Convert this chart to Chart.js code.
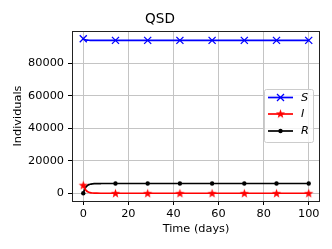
<!DOCTYPE html>
<html>
<head>
<meta charset="utf-8">
<script src="https://cdn.jsdelivr.net/npm/chart.js@4.4.1/dist/chart.umd.min.js"></script>
<style>
  html, body { margin: 0; padding: 0; background: #fff; }
  #wrap { width: 332px; height: 249px; }
</style>
</head>
<body>
<div id="wrap"><canvas id="c" width="332" height="249"></canvas></div>
<script>
// time (days) of the solution points
const days = [0, 0.5, 1, 1.5, 2, 2.5, 3, 4, 5, 6, 8, 10, 14.29, 28.57, 42.86, 57.14, 71.43, 85.71, 100];
// days where markers are drawn
const markDays = [0, 14.29, 28.57, 42.86, 57.14, 71.43, 85.71, 100];

const S = [95000, 94600, 94350, 94200, 94120, 94070, 94040, 94010, 94000, 94000, 94000, 94000, 94000, 94000, 94000, 94000, 94000, 94000, 94000];
const I = [5000, 3300, 2150, 1400, 900, 600, 380, 160, 70, 30, 5, 0, 0, 0, 0, 0, 0, 0, 0];
const R = [0, 2100, 3500, 4400, 4980, 5330, 5580, 5830, 5930, 5970, 5995, 6000, 6000, 6000, 6000, 6000, 6000, 6000, 6000];

const seriesNames = ['S', 'I', 'R'];
const xTicks = [0, 20, 40, 60, 80, 100];
const yTicks = [0, 20000, 40000, 60000, 80000];

const FONT = 'DejaVu Sans';
const FS = 11.3;

// filled five point star like matplotlib '*'
function makeStar(color) {
  const c = document.createElement('canvas');
  c.width = 11; c.height = 11;
  const g = c.getContext('2d');
  g.fillStyle = color;
  g.beginPath();
  for (let i = 0; i < 10; i++) {
    const r = i % 2 === 0 ? 4.8 : 2.0;
    const a = -Math.PI / 2 + i * Math.PI / 5;
    const px = 5.5 + r * Math.cos(a), py = 5.8 + r * Math.sin(a);
    if (i === 0) g.moveTo(px, py); else g.lineTo(px, py);
  }
  g.closePath();
  g.fill();
  return c;
}
const star = makeStar('#ff0000');

const isMark = ctx => markDays.includes(days[ctx.dataIndex]);
const pts = arr => days.map((d, i) => ({ x: d, y: arr[i] }));

const frame = {
  id: 'frame',
  afterDatasetsDraw(chart) {
    const a = chart.chartArea, ctx = chart.ctx;
    ctx.save();
    ctx.strokeStyle = '#222';
    ctx.lineWidth = 1;
    ctx.strokeRect(Math.round(a.left) + 0.5, Math.round(a.top) + 0.5, Math.round(a.right - a.left) - 1, Math.round(a.bottom - a.top));
    ctx.restore();
  }
};

const legendBox = {
  id: 'legendBox',
  afterDraw(chart) {
    const ctx = chart.ctx;
    ctx.save();
    ctx.beginPath();
    ctx.roundRect(264.5, 89.5, 49, 53, 2);
    ctx.fillStyle = 'rgba(255,255,255,0.8)';
    ctx.fill();
    ctx.strokeStyle = '#cccccc';
    ctx.lineWidth = 1;
    ctx.stroke();
    const rows = [97.5, 114, 131];
    const colors = ['#0000ff', '#ff0000', '#000000'];
    rows.forEach((y, k) => {
      ctx.strokeStyle = colors[k];
      ctx.lineWidth = 1.7;
      ctx.beginPath();
      ctx.moveTo(268, y); ctx.lineTo(293, y);
      ctx.stroke();
      const mx = 280.5;
      if (k === 0) {
        ctx.lineWidth = 1.3;
        ctx.beginPath();
        ctx.moveTo(mx - 3.5, y - 3.5); ctx.lineTo(mx + 3.5, y + 3.5);
        ctx.moveTo(mx - 3.5, y + 3.5); ctx.lineTo(mx + 3.5, y - 3.5);
        ctx.stroke();
      } else if (k === 1) {
        ctx.drawImage(star, mx - 5.5, y - 5.8);
      } else {
        ctx.fillStyle = '#000';
        ctx.beginPath();
        ctx.arc(mx, y, 2.2, 0, Math.PI * 2);
        ctx.fill();
      }
      ctx.fillStyle = '#000';
      ctx.font = 'italic ' + FS + 'px "' + FONT + '"';
      ctx.textBaseline = 'middle';
      ctx.fillText(seriesNames[k], 301, y + 0.5);
    });
    ctx.restore();
  }
};

new Chart(document.getElementById('c'), {
  type: 'line',
  data: {
    datasets: [
      {
        label: seriesNames[0], data: pts(S),
        borderColor: '#0000ff', backgroundColor: '#0000ff', borderWidth: 1.7,
        pointStyle: 'crossRot', pointRadius: ctx => isMark(ctx) ? 5 : 0,
        pointBorderWidth: 1.3, cubicInterpolationMode: 'monotone'
      },
      {
        label: seriesNames[1], data: pts(I),
        borderColor: '#ff0000', backgroundColor: '#ff0000', borderWidth: 1.7,
        pointStyle: ctx => isMark(ctx) ? star : 'circle', pointRadius: ctx => isMark(ctx) ? 4 : 0,
        cubicInterpolationMode: 'monotone'
      },
      {
        label: seriesNames[2], data: pts(R),
        borderColor: '#000000', backgroundColor: '#000000', borderWidth: 1.7,
        pointStyle: 'circle', pointRadius: ctx => isMark(ctx) ? 2.2 : 0, pointBorderWidth: 0,
        cubicInterpolationMode: 'monotone'
      }
    ]
  },
  options: {
    responsive: false,
    animation: false,
    devicePixelRatio: 1,
    layout: { padding: { left: 0, right: 12, top: 0, bottom: 0 } },
    plugins: {
      legend: { display: false },
      tooltip: { enabled: false },
      title: {
        display: true, text: 'QSD', color: '#000',
        font: { family: FONT, size: 13.6, weight: 'normal' },
        padding: { top: 11.8, bottom: 2.9 }
      }
    },
    scales: {
      x: {
        type: 'linear', min: -5, max: 105,
        afterBuildTicks: s => { s.ticks = xTicks.map(v => ({ value: v })); },
        afterFit: s => { s.height = 48; },
        grid: { color: '#c4c4c4', lineWidth: 1, tickColor: '#000', tickLength: 4 },
        border: { display: false },
        ticks: { color: '#000', font: { family: FONT, size: FS }, padding: 2, maxRotation: 0 },
        title: { display: true, text: 'Time (days)', color: '#000', font: { family: FONT, size: FS }, padding: { top: 0, bottom: 13.2 } }
      },
      y: {
        min: -4750, max: 99750,
        afterBuildTicks: s => { s.ticks = yTicks.map(v => ({ value: v })); },
        afterFit: s => { s.width = 72; },
        grid: { color: '#c4c4c4', lineWidth: 1, tickColor: '#000', tickLength: 4 },
        border: { display: false },
        ticks: { color: '#000', font: { family: FONT, size: FS }, padding: 4, callback: v => String(v) },
        title: { display: true, text: 'Individuals', color: '#000', font: { family: FONT, size: FS }, padding: { top: 11.2, bottom: 0 } }
      }
    }
  },
  plugins: [frame, legendBox]
});
</script>
</body>
</html>
